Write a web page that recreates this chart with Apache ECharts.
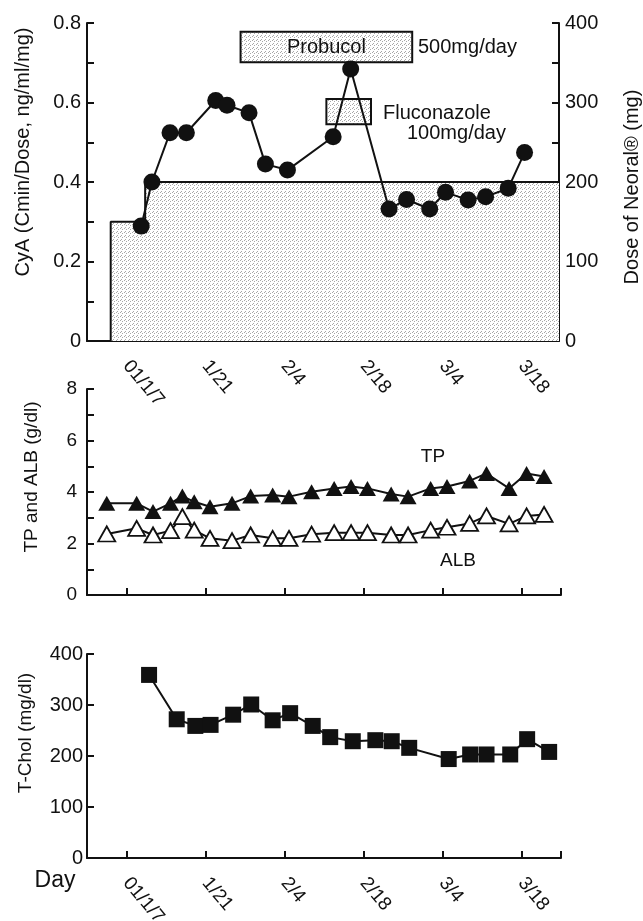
<!DOCTYPE html>
<html><head><meta charset="utf-8">
<script src="https://cdn.jsdelivr.net/npm/echarts@6/dist/echarts.min.js"></script>
<style>html,body{margin:0;padding:0;background:#fff}#c{width:643px;height:921px}</style>
</head><body><div id="c"></div>
<script>
// ---- data ----
const dateTickDays = [0, 14, 28, 42, 56, 70];            // days after 01/1/7
const dateTickLabels = ['01/1/7', '1/21', '2/4', '2/18', '3/4', '3/18'];

const cyaDays = [2.6, 4.5, 7.7, 10.6, 15.8, 17.8, 21.7, 24.6, 28.5, 36.6, 39.7, 46.5, 49.6, 53.7, 56.5, 60.5, 63.6, 67.6, 70.5];
const cyaValues = [0.289, 0.40, 0.524, 0.524, 0.605, 0.593, 0.574, 0.445, 0.43, 0.514, 0.684, 0.332, 0.356, 0.332, 0.374, 0.355, 0.363, 0.384, 0.474];

const neoralDays = [-2.8, -2.8, 3.3, 3.3, 76.6];
const neoralDose = [0, 150, 150, 200, 200];

const probucolPeriod = [20.2, 50.6];
const fluconazolePeriod = [35.4, 43.3];

const labDays = [-3.5, 1.8, 4.7, 7.8, 9.9, 12.0, 14.8, 18.7, 22.0, 25.9, 28.8, 32.8, 36.8, 39.8, 42.7, 46.9, 49.9, 53.9, 56.8, 60.8, 63.8, 67.8, 70.9, 74.0];
const tpValues = [3.56, 3.56, 3.24, 3.56, 3.84, 3.62, 3.43, 3.56, 3.84, 3.88, 3.82, 4.01, 4.14, 4.21, 4.14, 3.92, 3.82, 4.14, 4.21, 4.43, 4.72, 4.14, 4.72, 4.6];
const albValues = [2.37, 2.59, 2.33, 2.50, 3.04, 2.52, 2.20, 2.11, 2.33, 2.20, 2.20, 2.36, 2.42, 2.42, 2.42, 2.33, 2.33, 2.52, 2.63, 2.78, 3.07, 2.76, 3.07, 3.13];

const cholDays = [4.0, 8.9, 12.2, 14.9, 18.9, 22.1, 25.9, 29.0, 33.0, 36.1, 40.1, 44.1, 47.0, 50.1, 57.1, 60.9, 63.8, 68.0, 71.0, 74.9];
const cholValues = [359, 272, 259, 261, 281, 301, 270, 284, 259, 237, 229, 231, 229, 216, 194, 203, 203, 203, 233, 208];

// ---- helpers ----
const FONT = '"Liberation Sans", Arial, Helvetica, sans-serif';
function zip(xs, ys) { return xs.map((x, i) => [x, ys[i]]); }
function stipple() {
  const c = document.createElement('canvas');
  c.width = 4; c.height = 4;
  const g = c.getContext('2d');
  g.fillStyle = '#ffffff'; g.fillRect(0, 0, 4, 4);
  g.fillStyle = '#a8a8a8';
  g.fillRect(0, 0, 1, 1); g.fillRect(2, 1, 1, 1); g.fillRect(1, 3, 1, 1);
  return { image: c, repeat: 'repeat' };
}
const pat = stipple();
const dateFmt = v => { const i = dateTickDays.indexOf(v); return i >= 0 ? dateTickLabels[i] : ''; };
const black = '#111';
const axisLine = { show: true, onZero: false, lineStyle: { color: black, width: 2 } };

function xAxisCfg(gridIndex, max, showLabels, extraTicks) {
  return {
    type: 'value', gridIndex, min: -7, max,
    axisLine, splitLine: { show: false },
    axisTick: { show: true, inside: true, length: 7, lineStyle: { color: black, width: 2 }, customValues: dateTickDays.concat(extraTicks) },
    axisLabel: { show: showLabels, customValues: dateTickDays, rotate: -50, margin: 22, formatter: dateFmt, color: black, fontSize: 19, fontFamily: FONT }
  };
}

const chart = echarts.init(document.getElementById('c'), null, { renderer: 'canvas' });
const option = {
  backgroundColor: '#fff',
  animation: false,
  grid: [
    { left: 87, top: 23, width: 472, height: 318, outerBoundsMode: 'none', containLabel: false },
    { left: 87, top: 389, width: 474, height: 206, outerBoundsMode: 'none', containLabel: false },
    { left: 87, top: 654, width: 474, height: 204, outerBoundsMode: 'none', containLabel: false }
  ],
  xAxis: [
    xAxisCfg(0, 76.6, true, []),
    xAxisCfg(1, 77, false, [77]),
    xAxisCfg(2, 77, true, [77])
  ],
  yAxis: [
    { type: 'value', gridIndex: 0, min: 0, max: 0.8, interval: 0.1, position: 'left',
      axisLine, splitLine: { show: false },
      axisTick: { inside: true, length: 7, lineStyle: { color: black, width: 2 } },
      axisLabel: { margin: 6, color: black, fontSize: 20, fontFamily: FONT,
        formatter: v => { const k = Math.round(v * 10); return k % 2 === 0 ? (k === 0 ? '0' : (k / 10).toFixed(1)) : ''; } } },
    { type: 'value', gridIndex: 0, min: 0, max: 400, interval: 50, position: 'right',
      axisLine, splitLine: { show: false },
      axisTick: { inside: true, length: 7, lineStyle: { color: black, width: 2 } },
      axisLabel: { margin: 6, color: black, fontSize: 20, fontFamily: FONT,
        formatter: v => (Math.round(v) % 100 === 0 ? String(Math.round(v)) : '') } },
    { type: 'value', gridIndex: 1, min: 0, max: 8, interval: 1,
      axisLine, splitLine: { show: false },
      axisTick: { inside: true, length: 7, lineStyle: { color: black, width: 2 } },
      axisLabel: { margin: 10, color: black, fontSize: 19, fontFamily: FONT,
        formatter: v => (Math.round(v) % 2 === 0 ? String(Math.round(v)) : '') } },
    { type: 'value', gridIndex: 2, min: 0, max: 400, interval: 100,
      axisLine, splitLine: { show: false },
      axisTick: { inside: true, length: 7, lineStyle: { color: black, width: 2 } },
      axisLabel: { margin: 4, color: black, fontSize: 20, fontFamily: FONT } }
  ],
  series: [
    { name: 'Dose of Neoral', type: 'line', xAxisIndex: 0, yAxisIndex: 1, z: 1,
      data: zip(neoralDays, neoralDose), symbol: 'none',
      lineStyle: { color: black, width: 2 }, areaStyle: { color: pat, opacity: 1 } },
    { name: 'CyA', type: 'line', xAxisIndex: 0, yAxisIndex: 0, z: 5,
      data: zip(cyaDays, cyaValues), symbol: 'circle', symbolSize: 17,
      lineStyle: { color: black, width: 2 }, itemStyle: { color: black },
      markArea: { silent: true, z: 2,
        itemStyle: { color: pat, borderColor: black, borderWidth: 2 },
        label: { show: true, position: 'inside', color: black, fontSize: 20, fontFamily: FONT },
        data: [
          [{ name: 'Probucol', xAxis: probucolPeriod[0], yAxis: 0.778 }, { xAxis: probucolPeriod[1], yAxis: 0.701 }],
          [{ name: '', xAxis: fluconazolePeriod[0], yAxis: 0.609 }, { xAxis: fluconazolePeriod[1], yAxis: 0.545 }]
        ] } },
    { name: 'TP', type: 'line', xAxisIndex: 1, yAxisIndex: 2,
      data: zip(labDays, tpValues), symbol: 'triangle', symbolSize: [17, 15],
      lineStyle: { color: black, width: 2 }, itemStyle: { color: black } },
    { name: 'ALB', type: 'line', xAxisIndex: 1, yAxisIndex: 2,
      data: zip(labDays, albValues), symbol: 'triangle', symbolSize: [17, 15],
      lineStyle: { color: black, width: 2 }, itemStyle: { color: '#fff', borderColor: black, borderWidth: 1.8 } },
    { name: 'T-Chol', type: 'line', xAxisIndex: 2, yAxisIndex: 3,
      data: zip(cholDays, cholValues), symbol: 'rect', symbolSize: 16,
      lineStyle: { color: black, width: 2 }, itemStyle: { color: black } }
  ],
  graphic: [
    { type: 'text', x: 23, y: 152, rotation: Math.PI / 2, style: { text: 'CyA (Cmin/Dose, ng/ml/mg)', font: '20px ' + FONT, fill: black, align: 'center', verticalAlign: 'middle' } },
    { type: 'text', x: 632, y: 187, rotation: Math.PI / 2, style: { text: 'Dose of Neoral® (mg)', font: '20px ' + FONT, fill: black, align: 'center', verticalAlign: 'middle' } },
    { type: 'text', x: 32, y: 477, rotation: Math.PI / 2, style: { text: 'TP and ALB (g/dl)', font: '19px ' + FONT, fill: black, align: 'center', verticalAlign: 'middle' } },
    { type: 'text', x: 26, y: 733, rotation: Math.PI / 2, style: { text: 'T-Chol (mg/dl)', font: '19px ' + FONT, fill: black, align: 'center', verticalAlign: 'middle' } },
    { type: 'text', x: 328, y: 284, style: { text: 'Dose of Neoral®', font: '20px ' + FONT, fill: black, align: 'center', verticalAlign: 'middle' } },
    { type: 'text', x: 418, y: 47, style: { text: '500mg/day', font: '20px ' + FONT, fill: black, align: 'left', verticalAlign: 'middle' } },
    { type: 'text', x: 383, y: 113, style: { text: 'Fluconazole', font: '20px ' + FONT, fill: black, align: 'left', verticalAlign: 'middle' } },
    { type: 'text', x: 407, y: 133, style: { text: '100mg/day', font: '20px ' + FONT, fill: black, align: 'left', verticalAlign: 'middle' } },
    { type: 'text', x: 433, y: 457, style: { text: 'TP', font: '19px ' + FONT, fill: black, align: 'center', verticalAlign: 'middle' } },
    { type: 'text', x: 458, y: 561, style: { text: 'ALB', font: '19px ' + FONT, fill: black, align: 'center', verticalAlign: 'middle' } },
    { type: 'text', x: 55, y: 881, style: { text: 'Day', font: '23px ' + FONT, fill: black, align: 'center', verticalAlign: 'middle' } }
  ]
};
chart.setOption(option);
</script>
</body></html>
